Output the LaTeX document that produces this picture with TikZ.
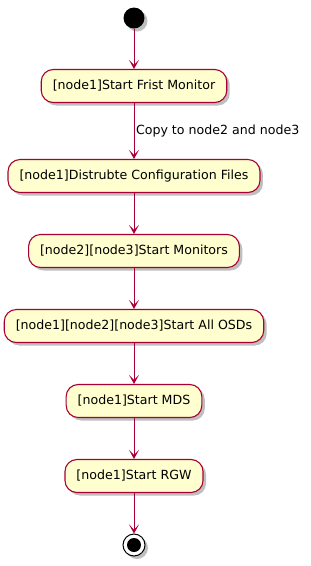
\documentclass[tikz,border=0pt]{standalone}
\usepackage{fontspec}
\setmainfont{DejaVu Sans}
\usetikzlibrary{arrows.meta,shadows}
\definecolor{umlred}{HTML}{A80036}
\definecolor{umlfill}{HTML}{FEFECE}
\tikzset{
  act/.style={draw=umlred, fill=umlfill, line width=1.1pt, rounded corners=12pt,
    minimum height=33pt, inner xsep=11.5pt, font=\fontsize{12.6}{15}\selectfont,
    drop shadow={shadow xshift=3pt, shadow yshift=-3pt, opacity=0.25, fill=black}},
  flow/.style={draw=umlred, line width=1pt, -{Stealth[length=9pt,width=10pt,inset=5pt]}}
}
\begin{document}
\begin{tikzpicture}[x=1pt,y=-1pt]
\useasboundingbox (0,0) rectangle (311,566);
\node[circle, fill=black, minimum size=21pt, inner sep=0pt,
  drop shadow={shadow xshift=3pt, shadow yshift=-3pt, opacity=0.25, fill=black}] (start) at (134,18) {};
\node[act] (first) at (134,86) {[node1]Start Frist Monitor};
\node[act] (conf) at (134,176) {[node1]Distrubte Configuration Files};
\node[act] (mons) at (134,251) {[node2][node3]Start Monitors};
\node[act] (osds) at (134,326) {[node1][node2][node3]Start All OSDs};
\node[act] (mds) at (134,401) {[node1]Start MDS};
\node[act] (rgw) at (134,476) {[node1]Start RGW};
\node[circle, draw=black, fill=white, line width=1pt, minimum size=22pt, inner sep=0pt,
  drop shadow={shadow xshift=3pt, shadow yshift=-3pt, opacity=0.25, fill=black}] (stop) at (134,545) {};
\node[circle, fill=black, minimum size=14pt, inner sep=0pt] (stopdot) at (stop) {};
% connectors
\draw[flow] (start) -- (first);
\draw[flow] (first) -- node[right, inner sep=1.5pt, font=\fontsize{12.6}{15}\selectfont] {Copy to node2 and node3} (conf);
\draw[flow] (conf) -- (mons);
\draw[flow] (mons) -- (osds);
\draw[flow] (osds) -- (mds);
\draw[flow] (mds) -- (rgw);
\draw[flow] (rgw) -- (stop);
\end{tikzpicture}
\end{document}
